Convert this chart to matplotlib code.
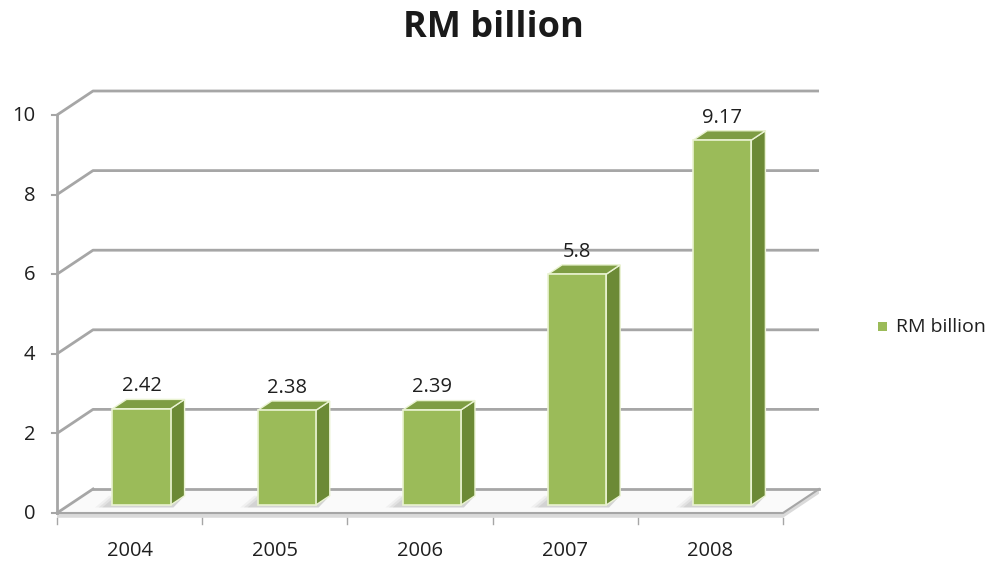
import matplotlib
matplotlib.use('Agg')
import matplotlib.pyplot as plt
from matplotlib.patches import Polygon, Rectangle

# chart data
years = ['2004', '2005', '2006', '2007', '2008']
values = [2.42, 2.38, 2.39, 5.8, 9.17]
y_ticks = [0, 2, 4, 6, 8, 10]
series_name = 'RM billion'

# fake 3d depth offset, in data units (categories, value)
DX, DY = 0.248, 0.603
D0, D1 = 0.33, 0.72      # bar depth span (fraction of floor depth)
BW = 0.40                # bar width in category units

FRONT = '#9BBB59'
SIDE = '#6C8A36'
TOP = '#7E9D43'
EDGE = '#EAF3D2'
GRID = '#A6A6A6'
TXT = '#1f1f1f'

plt.rcParams['font.family'] = ['Open Sans', 'DejaVu Sans']

fig = plt.figure(figsize=(10.01, 5.65), dpi=100)
ax = fig.add_axes([0, 0, 1, 1])
ax.set_xlim(-57 / 145.2, (1001 - 57) / 145.2)
ax.set_ylim((513 - 565) / 39.8, 513 / 39.8)
ax.axis('off')

n = len(years)

# back wall gridlines
for v in y_ticks[1:]:
    ax.plot([0, DX, n + DX], [v, v + DY, v + DY], color=GRID, lw=2, zorder=1,
            solid_capstyle='butt')

# floor
floor = Polygon([(0, 0), (n, 0), (n + DX, DY), (DX, DY)], closed=True,
                facecolor='#FAFAFA', edgecolor='none', zorder=2)
ax.add_patch(floor)
slab = Polygon([(0, 0), (n, 0), (n + DX, DY), (n + DX, DY - 0.12), (n, -0.12), (0, -0.12)],
               closed=True, facecolor='#DADADA', edgecolor='none', zorder=2)
ax.add_patch(slab)
ax.plot([DX, n + DX], [DY, DY], color=GRID, lw=2, zorder=2)
ax.plot([0, DX], [0, DY], color=GRID, lw=2, zorder=2)
ax.plot([0, n, n + DX], [0, 0, DY], color=GRID, lw=1.5, zorder=2)

# left axis and ticks
ax.plot([0, 0], [0, y_ticks[-1]], color=GRID, lw=2, zorder=3)
for v in y_ticks:
    ax.plot([-0.035, 0], [v, v], color=GRID, lw=1.5, zorder=3)
    ax.text(-0.15, v - 0.03, str(v), ha='right', va='center', fontsize=14.5, color=TXT)
for i in range(n + 1):
    ax.plot([i, i], [-0.12, -0.27], color=GRID, lw=1, zorder=3)
for i, yr in enumerate(years):
    ax.text(i + 0.5, -0.95, yr, ha='center', va='center', fontsize=14.5, color=TXT)

# bars
for i, v in enumerate(values):
    x0 = i + 0.5 - BW / 2 + D0 * DX
    x1 = x0 + BW
    yb = D0 * DY
    yt = yb + v
    ddx = (D1 - D0) * DX
    ddy = (D1 - D0) * DY
    # shadow on the floor
    for k, a in enumerate([0.07, 0.1, 0.13]):
        grow = 0.07 - k * 0.025
        sh = Polygon([(x0 - 0.05 - grow, yb - 0.06), (x1 + 0.02, yb - 0.06),
                      (x1 + ddx, yb + ddy), (x0 + ddx - 0.05 - grow, yb + ddy)],
                     closed=True, facecolor='#707070', alpha=a, edgecolor='none', zorder=3)
        ax.add_patch(sh)
    side = Polygon([(x1, yb), (x1 + ddx, yb + ddy), (x1 + ddx, yt + ddy), (x1, yt)],
                   closed=True, facecolor=SIDE, edgecolor=EDGE, lw=1, zorder=4)
    top = Polygon([(x0, yt), (x1, yt), (x1 + ddx, yt + ddy), (x0 + ddx, yt + ddy)],
                  closed=True, facecolor=TOP, edgecolor=EDGE, lw=1, zorder=4)
    front = Rectangle((x0, yb), BW, v, facecolor=FRONT, edgecolor=EDGE, lw=1.2, zorder=5)
    ax.add_patch(side)
    ax.add_patch(top)
    ax.add_patch(front)
    ax.text(x0 + BW / 2, yt + ddy + 0.33, f'{v:g}', ha='center', va='center',
            fontsize=14.5, color=TXT, zorder=6)

# legend
ax.add_patch(Rectangle(((878 - 57) / 145.2, (513 - 331) / 39.8), 9 / 145.2, 9 / 39.8,
                       facecolor=FRONT, edgecolor='none'))
ax.text((896 - 57) / 145.2, (513 - 327) / 39.8, series_name, ha='left', va='center',
        fontsize=14, color=TXT)

fig.text(493 / 1001, 1 - 28 / 565, 'RM billion', ha='center', va='center', fontsize=26,
         fontweight='bold', color='#1a1a1a')

fig.savefig('out.png', dpi=100)
